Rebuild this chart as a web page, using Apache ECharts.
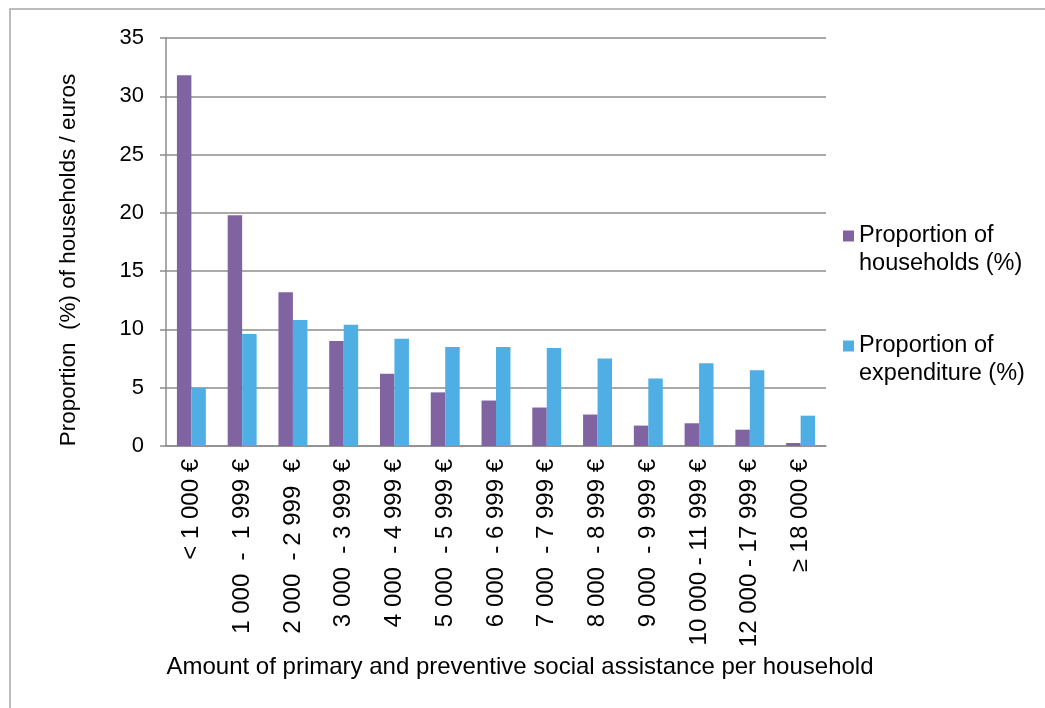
<!DOCTYPE html>
<html>
<head>
<meta charset="utf-8">
<script src="https://cdn.jsdelivr.net/npm/echarts@6/dist/echarts.min.js"></script>
<style>
  html, body { margin: 0; padding: 0; background: #fff; }
  #chart { width: 1045px; height: 708px; }
</style>
</head>
<body>
<div id="chart"></div>
<script>
const categories = [
  "< 1 000 €",
  "1 000  -  1 999 €",
  "2 000  - 2 999  €",
  "3 000  - 3 999 €",
  "4 000  - 4 999 €",
  "5 000  - 5 999 €",
  "6 000  - 6 999 €",
  "7 000  - 7 999 €",
  "8 000  - 8 999 €",
  "9 000  - 9 999 €",
  "10 000 - 11 999 €",
  "12 000 - 17 999 €",
  "≥ 18 000 €"
];
const households = [31.8, 19.8, 13.2, 9.0, 6.2, 4.6, 3.9, 3.3, 2.7, 1.75, 1.95, 1.4, 0.26];
const expenditure = [5.0, 9.6, 10.8, 10.4, 9.2, 8.5, 8.5, 8.4, 7.5, 5.8, 7.1, 6.5, 2.6];
const seriesNames = ["Proportion of\nhouseholds (%)", "Proportion of\nexpenditure (%)"];
const yAxisTitle = "Proportion  (%) of households / euros";
const xAxisTitle = "Amount of primary and preventive social assistance per household";

const FONT = "Liberation Sans, Arial, sans-serif";
const chart = echarts.init(document.getElementById('chart'), null, { renderer: 'canvas' });
chart.setOption({
  animation: false,
  backgroundColor: '#ffffff',
  graphic: [{
    type: 'rect',
    shape: { x: 10, y: 9, width: 1200, height: 900 },
    style: { fill: 'none', stroke: '#a6a6a6', lineWidth: 1.5 },
    silent: true
  }],
  grid: { left: 166, right: 219, top: 38, bottom: 262, containLabel: false },
  legend: {
    orient: 'vertical',
    left: 838,
    top: 189,
    itemWidth: 11,
    itemHeight: 11,
    itemGap: 26,
    icon: 'rect',
    formatter: function (name) { return '\n' + name; },
    textStyle: { fontFamily: FONT, fontSize: 23.5, color: '#000', lineHeight: 28 },
    data: seriesNames
  },
  xAxis: {
    type: 'category',
    data: categories,
    name: xAxisTitle,
    nameLocation: 'middle',
    nameGap: 209,
    nameTextStyle: { fontFamily: FONT, fontSize: 24, color: '#000', padding: [0, 0, 0, 48] },
    axisLine: { lineStyle: { color: '#8c8c8c', width: 1.5 } },
    axisTick: { show: false },
    axisLabel: { rotate: 90, margin: 13, fontFamily: FONT, fontSize: 24, color: '#000', interval: 0 }
  },
  yAxis: {
    type: 'value',
    min: 0,
    max: 35,
    interval: 5,
    name: yAxisTitle,
    nameLocation: 'middle',
    nameGap: 86,
    nameTextStyle: { fontFamily: FONT, fontSize: 22.5, color: '#000', padding: [0, 36, 0, 0] },
    axisLine: { show: true, lineStyle: { color: '#8c8c8c', width: 1.5 } },
    axisTick: { show: true, length: 6, lineStyle: { color: '#8c8c8c', width: 1.5 } },
    splitLine: { lineStyle: { color: '#8c8c8c', width: 1.5 } },
    axisLabel: { margin: 22, fontFamily: FONT, fontSize: 22, color: '#000' }
  },
  series: [
    {
      name: seriesNames[0],
      type: 'bar',
      data: households,
      barGap: '0%',
      barCategoryGap: '43%',
      itemStyle: { color: '#8064A2' }
    },
    {
      name: seriesNames[1],
      type: 'bar',
      data: expenditure,
      itemStyle: { color: '#4FAEE3' }
    }
  ]
});
</script>
</body>
</html>
